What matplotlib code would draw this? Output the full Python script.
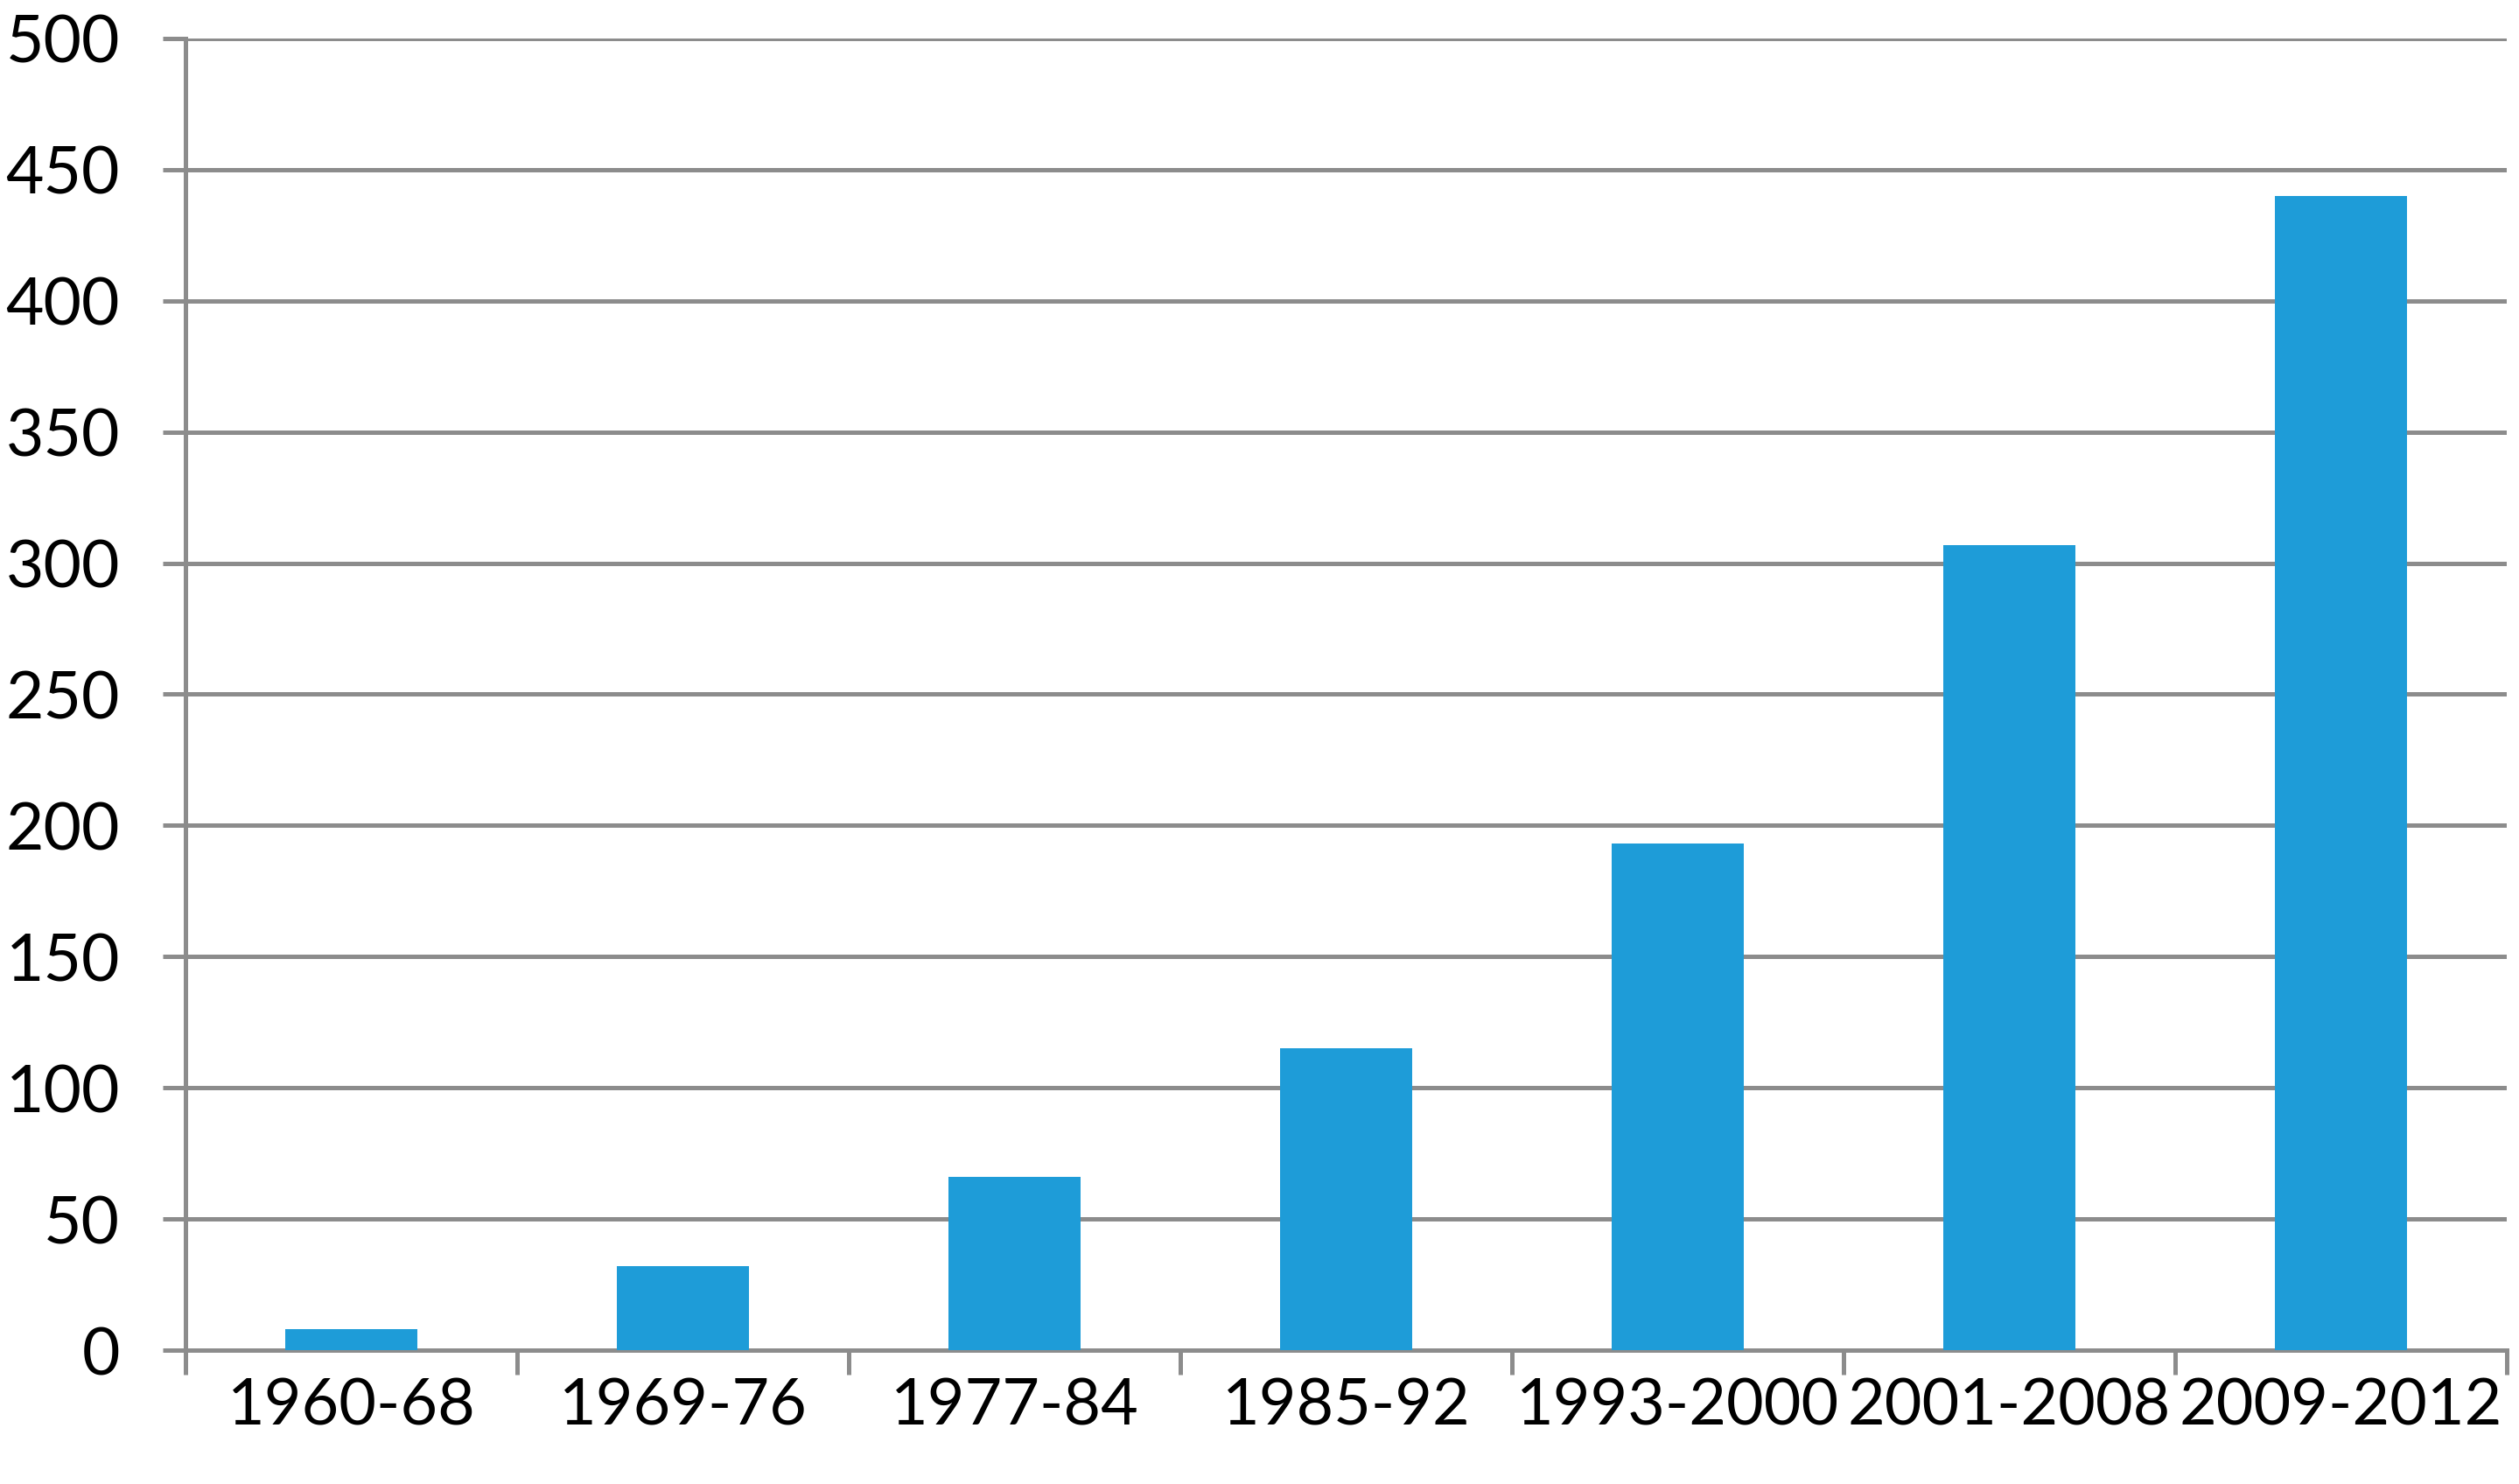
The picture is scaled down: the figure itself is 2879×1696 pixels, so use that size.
import matplotlib
matplotlib.use("Agg")
import matplotlib.pyplot as plt
import numpy as np
from matplotlib.ticker import FixedLocator

# Data
periods = ["1960-68", "1969-76", "1977-84", "1985-92",
           "1993-2000", "2001-2008", "2009-2012"]
values = [8, 32, 66, 115, 193, 307, 440]
y_ticks = [0, 50, 100, 150, 200, 250, 300, 350, 400, 450, 500]

BAR_COLOR = "#1E9CD8"
GRID_COLOR = "#8C8C8C"


def main() -> None:
    plt.rcParams["font.family"] = ["Lato", "DejaVu Sans"]

    fig = plt.figure(figsize=(28.79, 16.96), dpi=100)
    ax = fig.add_axes([0.0736, 0.0902, 0.9951 - 0.0736, 0.9741 - 0.0902])

    x = np.arange(len(periods))
    ax.bar(x, values, width=0.4, color=BAR_COLOR, zorder=3)

    ax.set_xlim(-0.5, len(periods) - 0.5)
    ax.set_ylim(0, 500)
    ax.set_yticks(y_ticks)

    # horizontal gridlines
    ax.yaxis.grid(True, color=GRID_COLOR, linewidth=3.6, zorder=1)
    ax.set_axisbelow(True)

    for side in ("top", "right"):
        ax.spines[side].set_visible(False)
    for side in ("left", "bottom"):
        ax.spines[side].set_color(GRID_COLOR)
        ax.spines[side].set_linewidth(3.6)
        ax.spines[side].set_zorder(2)

    # category labels centred, tick marks at category boundaries
    ax.set_xticks(x)
    ax.set_xticklabels(periods)
    ax.xaxis.set_minor_locator(FixedLocator(np.arange(-0.5, len(periods), 1.0)))
    ax.tick_params(axis="x", which="major", length=0, pad=23, labelsize=53)
    ax.tick_params(axis="x", which="minor", length=20, width=3.6,
                   color=GRID_COLOR, direction="out")
    ax.tick_params(axis="y", which="major", length=19, width=3.6,
                   color=GRID_COLOR, direction="out", pad=35, labelsize=54)

    fig.savefig("out.png", dpi=100, facecolor="white")


if __name__ == "__main__":
    main()
